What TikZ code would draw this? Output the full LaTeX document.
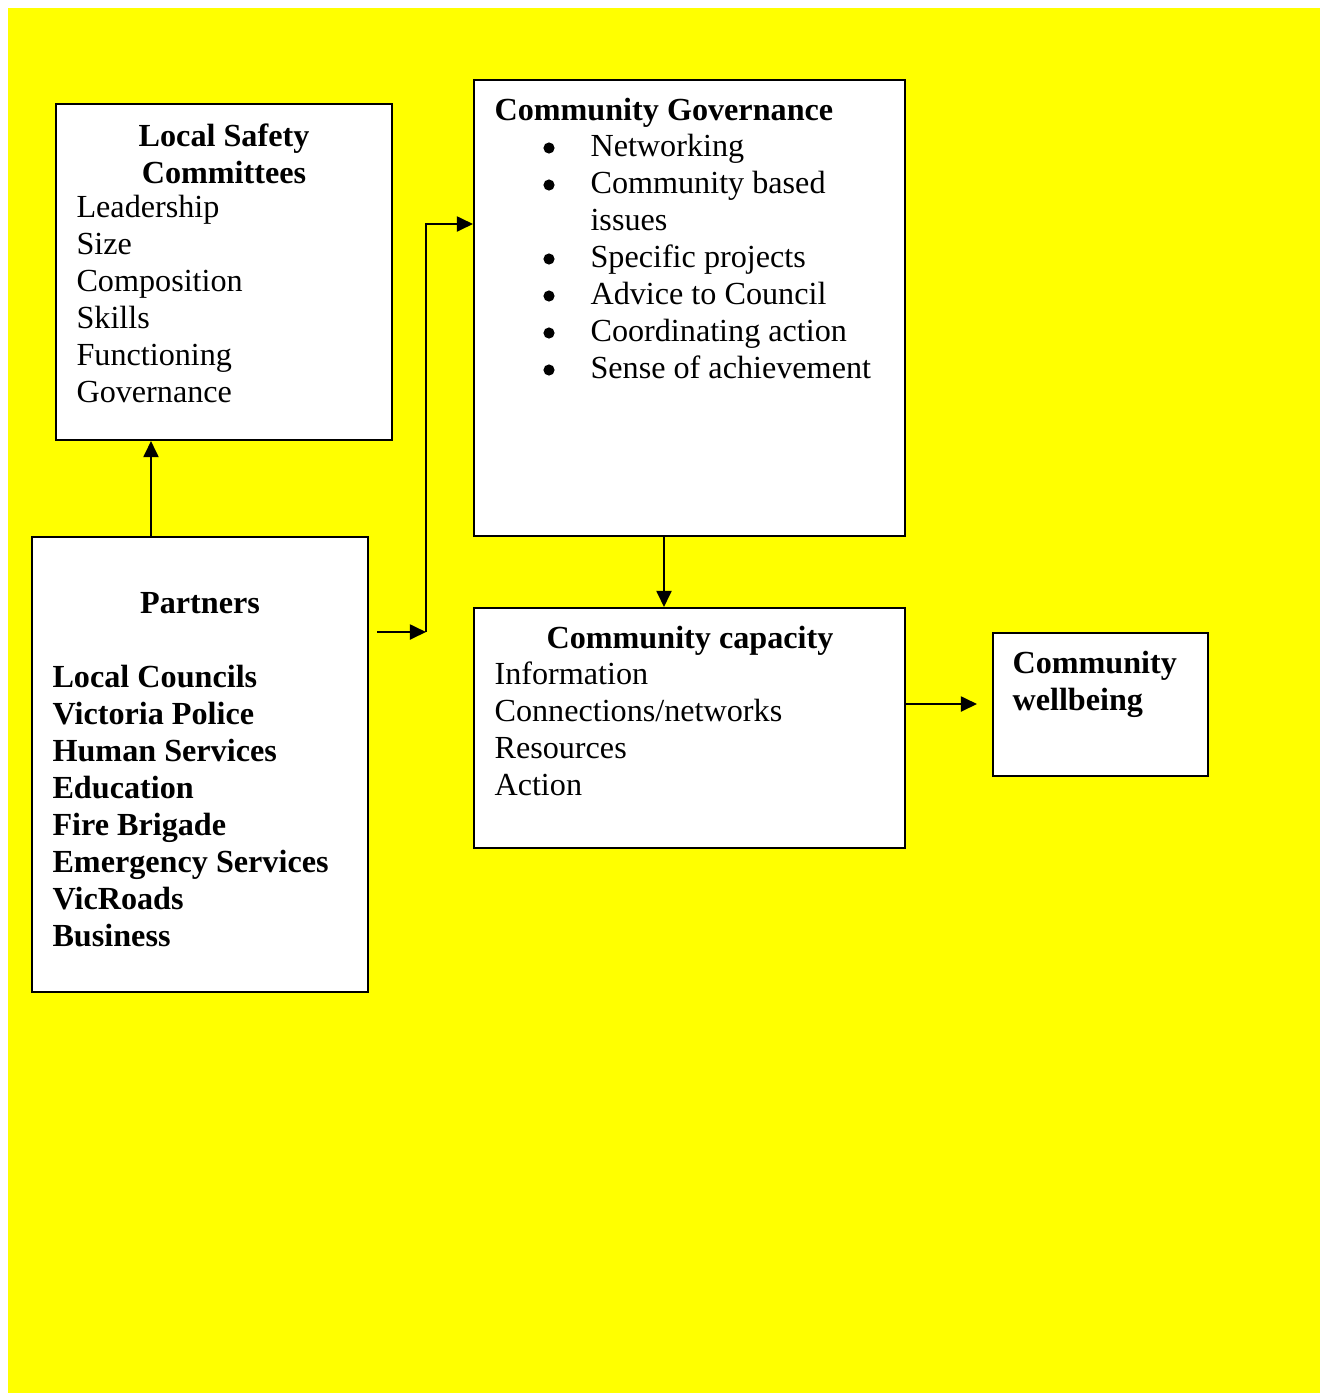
\documentclass[tikz,border=0pt]{standalone}
\usepackage{fontspec}
\setmainfont{Liberation Serif}
\usepackage{array}
\usetikzlibrary{arrows.meta,fit,calc}
\definecolor{bgyellow}{RGB}{255,255,0}
\tikzset{
  box/.style={draw, line width=0.75pt, fill=white, inner sep=0pt},
  txt/.style={inner sep=0pt, font=\fontsize{12}{13.8}\selectfont},
  arr/.style={line width=0.75pt, -{Triangle[length=6pt,width=5.6pt]}}
}
\begin{document}
\begin{tikzpicture}[x=0.373pt, y=-0.373pt]
\useasboundingbox (0,0) rectangle (1322,1393);
\fill[bgyellow] (8,8) rectangle (1320,1393);

% boxes
\node[box, fit={(56,104) (392,440)}] (lsc) {};
\node[box, fit={(32,537) (368,992)}] (partners) {};
\node[box, fit={(474,80) (905,536)}] (cg) {};
\node[box, fit={(474,608) (905,848)}] (cc) {};
\node[box, fit={(993,633) (1208,776)}] (cw) {};

% texts
\node[txt, anchor=north] (lschead) at (224,120)
  {\begin{tabular}{@{}>{\bfseries}c@{}}Local Safety\\Committees\end{tabular}};
\node[txt, anchor=north west] (lsclist) at (76,191)
  {\begin{tabular}{@{}l@{}}Leadership\\Size\\Composition\\Skills\\Functioning\\Governance\end{tabular}};

\node[txt, anchor=north] (parthead) at (200,587) {\begin{tabular}{@{}c@{}}\textbf{Partners}\end{tabular}};
\node[txt, anchor=north west] (partlist) at (52,661)
  {\begin{tabular}{@{}>{\bfseries}l@{}}Local Councils\\Victoria Police\\Human Services\\Education\\Fire Brigade\\Emergency Services\\VicRoads\\Business\end{tabular}};

\node[txt, anchor=north west] (cghead) at (494,94) {\begin{tabular}{@{}l@{}}\textbf{Community Governance}\end{tabular}};
\node[txt, anchor=north west] (cglist) at (590,130)
  {\begin{tabular}{@{}l@{}}
    Networking\\
    Community based\\
    issues\\
    Specific projects\\
    Advice to Council\\
    Coordinating action\\
    Sense of achievement
  \end{tabular}};
% bullets
\foreach \y in {148,185,259,296,333,370}
  \filldraw (549,\y) circle (5);

\node[txt, anchor=north] (cchead) at (690,622) {\begin{tabular}{@{}c@{}}\textbf{Community capacity}\end{tabular}};
\node[txt, anchor=north west] (cclist) at (494,658)
  {\begin{tabular}{@{}l@{}}Information\\Connections/networks\\Resources\\Action\end{tabular}};

\node[txt, anchor=north west] (cwhead) at (1012,647)
  {\begin{tabular}{@{}>{\bfseries}l@{}}Community\\wellbeing\end{tabular}};

% arrows
\coordinate (pout) at (377,632);
\coordinate (bend) at (426,632);
\coordinate (cgin) at (474,224);
\coordinate (cwin) at (977,704);

\draw[arr] ($(partners.north west)+(120,0)$) coordinate (up) -- (up |- lsc.south);
\draw[arr] (pout) -- (bend);
\draw[arr] (bend) |- (cg.west |- cgin);
\draw[arr] ($(cg.south west)+(191,0)$) coordinate (down) -- (down |- cc.north);
\draw[arr] (cc.east |- cwin) -- (cwin);
\end{tikzpicture}
\end{document}
